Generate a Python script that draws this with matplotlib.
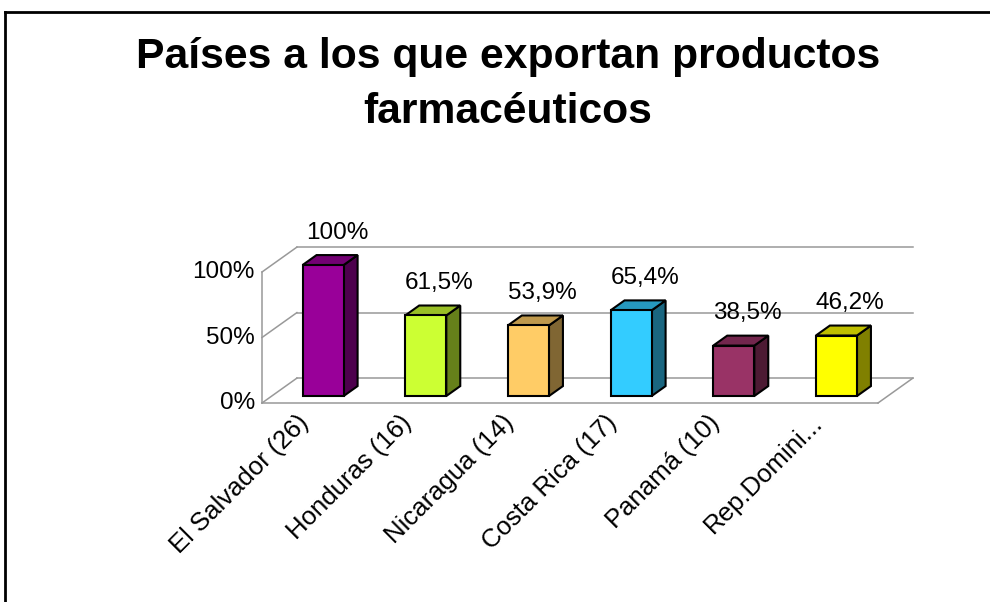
import matplotlib.pyplot as plt
from matplotlib.patches import Polygon
from matplotlib.lines import Line2D
import matplotlib.colors as mcolors

plt.rcParams['font.family'] = ['Liberation Sans', 'DejaVu Sans']

categories = ['El Salvador (26)', 'Honduras (16)', 'Nicaragua (14)',
              'Costa Rica (17)', 'Panamá (10)', 'Rep.Domini...']
values = [100, 61.5, 53.9, 65.4, 38.5, 46.2]
value_labels = ['100%', '61,5%', '53,9%', '65,4%', '38,5%', '46,2%']
colors = ['#990099', '#CCFF33', '#FFCC66', '#33CCFF', '#993366', '#FFFF00']
yticks = [0, 50, 100]
ytick_labels = ['0%', '50%', '100%']

# 3d look: depth vector of the floor in data units
DX, DY = 0.34, 19.0
F0, F1 = 0.28, 0.68   # bar front / back as fraction of depth


def shade(c, k):
    r, g, b = mcolors.to_rgb(c)
    return (r * k, g * k, b * k)


def off(x, y, f):
    return (x + f * DX, y + f * DY)


fig = plt.figure(figsize=(9.9, 6.02), dpi=100)
ax = fig.add_axes([262 / 990, (602 - 403) / 602, 616 / 990, 131 / 602])
ax.set_xlim(0, len(categories))
ax.set_ylim(0, 100)
ax.axis('off')

grid_kw = dict(color='#999999', lw=1.1, clip_on=False, zorder=1)
n = len(categories)
# back wall gridlines + left wall diagonals
for t in yticks:
    x0, y0 = off(0, t, 1)
    x1, y1 = off(n, t, 1)
    ax.plot([x0, x1], [y0, y1], **grid_kw)
    ax.plot([0, x0], [t, y0], **grid_kw)
ax.plot([0, 0], [0, yticks[-1]], **grid_kw)
# floor
ax.plot([0, n], [0, 0], **grid_kw)
xe, ye = off(n, 0, 1)
ax.plot([n, xe], [0, ye], **grid_kw)

for i, (v, c) in enumerate(zip(values, colors)):
    xl, xr = i + 0.3, i + 0.7
    front = [off(xl, 0, F0), off(xr, 0, F0), off(xr, v, F0), off(xl, v, F0)]
    top = [off(xl, v, F0), off(xr, v, F0), off(xr, v, F1), off(xl, v, F1)]
    side = [off(xr, 0, F0), off(xr, 0, F1), off(xr, v, F1), off(xr, v, F0)]
    for pts, col in ((side, shade(c, 0.5)), (top, shade(c, 0.75)), (front, c)):
        ax.add_patch(Polygon(pts, closed=True, facecolor=col, edgecolor='black',
                             lw=1.5, joinstyle='miter', clip_on=False, zorder=3))
    ax.text(i + 0.73, v + 30, value_labels[i], ha='center', va='center',
            fontsize=17.5, clip_on=False)
    ax.text(i + 0.42, -12, categories[i], rotation=45, rotation_mode='anchor',
            ha='right', va='center', fontsize=18.5)

for t, lab in zip(yticks, ytick_labels):
    ax.text(-0.07, t, lab, ha='right', va='center', fontsize=17.5)

title_lines = ['Países a los que exportan productos', 'farmacéuticos']
for line, base in zip(title_lines, [68, 123]):
    fig.text(0.513, 1 - base / 602, line, ha='center', va='baseline',
             fontsize=30.7, fontweight='bold')

# outer frame (cropped on right and bottom)
fx, fy = 5 / 990, 1 - 12 / 602
fig.add_artist(Line2D([fx, fx], [0, fy], color='black', lw=2, transform=fig.transFigure))
fig.add_artist(Line2D([fx, 1], [fy, fy], color='black', lw=2, transform=fig.transFigure))

fig.savefig('out.png', dpi=100)
